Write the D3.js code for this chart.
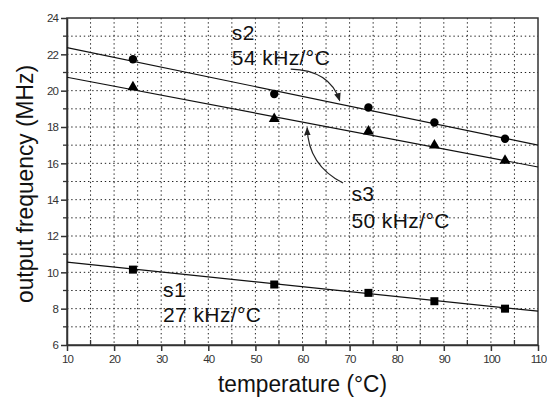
<!DOCTYPE html>
<html>
<head>
<meta charset="utf-8">
<script src="https://cdn.jsdelivr.net/npm/d3@7"></script>
<style>
  body { margin: 0; background: #fff; }
  text { font-family: "Liberation Sans", Arial, sans-serif; }
</style>
</head>
<body>
<div id="chart"></div>
<script>
// measured points
var temps = [24, 54, 74, 88, 103];
var s1 = [10.15, 9.33, 8.87, 8.41, 8.0];     // squares
var s2 = [21.73, 19.82, 19.07, 18.25, 17.35]; // circles
var s3 = [20.14, 18.4, 17.7, 16.93, 16.1];   // triangles

// fitted lines, read at both ends of the axis
var fitX = [10, 110];
var fit1 = [10.56, 7.86];
var fit2 = [22.37, 17.0];
var fit3 = [20.74, 15.8];

var xTicks = [10, 20, 30, 40, 50, 60, 70, 80, 90, 100, 110];
var yTicks = [6, 8, 10, 12, 14, 16, 18, 20, 22, 24];

var svgWidth = 547, svgHeight = 399;
var margin = {top: 18, right: 9, bottom: 54, left: 67};
var chartWidth = svgWidth - margin.left - margin.right;
var chartHeight = svgHeight - margin.top - margin.bottom;

var svg = d3.select("#chart").append("svg")
    .attr("width", svgWidth)
    .attr("height", svgHeight);

var g = svg.append("g")
    .attr("transform", `translate(${margin.left}, ${margin.top})`);

var x = d3.scaleLinear().domain([10, 110]).range([0, chartWidth]);
var y = d3.scaleLinear().domain([6, 24]).range([chartHeight, 0]);

// dotted grid
g.append("g").selectAll("line")
  .data(d3.range(15, 110, 5))
  .enter().append("line")
  .attr("x1", d => x(d)).attr("x2", d => x(d))
  .attr("y1", 0).attr("y2", chartHeight)
  .attr("stroke", "#222").attr("stroke-width", 1)
  .attr("stroke-dasharray", "1.4,2.8");

g.append("g").selectAll("line")
  .data(d3.range(7, 24, 1))
  .enter().append("line")
  .attr("y1", d => y(d)).attr("y2", d => y(d))
  .attr("x1", 0).attr("x2", chartWidth)
  .attr("stroke", "#222").attr("stroke-width", 1)
  .attr("stroke-dasharray", "1.4,2.8");

// axes
var xAxis = g.append("g")
  .attr("transform", `translate(0, ${chartHeight})`)
  .call(d3.axisBottom(x).tickValues(xTicks).tickSize(6).tickSizeOuter(0));
var yAxis = g.append("g")
  .call(d3.axisLeft(y).tickValues(yTicks).tickSize(6).tickSizeOuter(0));

// minor ticks
g.append("g").selectAll("line")
  .data(d3.range(15, 110, 10))
  .enter().append("line")
  .attr("x1", d => x(d)).attr("x2", d => x(d))
  .attr("y1", chartHeight).attr("y2", chartHeight - 5)
  .attr("stroke", "#333").attr("stroke-width", 1.3);
g.append("g").selectAll("line")
  .data(d3.range(7, 24, 2))
  .enter().append("line")
  .attr("y1", d => y(d)).attr("y2", d => y(d))
  .attr("x1", 0).attr("x2", -4)
  .attr("stroke", "#333").attr("stroke-width", 1.3);

[xAxis, yAxis].forEach(a => {
  a.selectAll("path, line").attr("stroke", "#333").attr("stroke-width", 1.5);
  a.selectAll("text")
    .attr("fill", "#333")
    .style("font-size", "11.5px")
    .style("letter-spacing", "-0.9px")
    .style("font-family", "'Liberation Sans', Arial, sans-serif");
});
yAxis.selectAll("text").attr("x", -9);
xAxis.selectAll("text").attr("y", 10);

// frame
g.append("rect")
  .attr("width", chartWidth).attr("height", chartHeight)
  .attr("fill", "none").attr("stroke", "#333").attr("stroke-width", 1.5);

// fit lines
var line = d3.line().x(d => x(d[0])).y(d => y(d[1]));
[fit1, fit2, fit3].forEach(f => {
  g.append("path")
    .datum(fitX.map((t, i) => [t, f[i]]))
    .attr("d", line)
    .attr("fill", "none")
    .attr("stroke", "#111")
    .attr("stroke-width", 1.2);
});

// markers
g.selectAll(".sq").data(temps).enter().append("rect")
  .attr("x", (d, i) => x(d) - 4).attr("y", (d, i) => y(s1[i]) - 4)
  .attr("width", 8).attr("height", 8).attr("fill", "#000");

g.selectAll(".ci").data(temps).enter().append("circle")
  .attr("cx", d => x(d)).attr("cy", (d, i) => y(s2[i]))
  .attr("r", 4.2).attr("fill", "#000");

g.selectAll(".tri").data(temps).enter().append("path")
  .attr("d", d3.symbol().type(d3.symbolTriangle).size(52))
  .attr("transform", (d, i) => `translate(${x(d)}, ${y(s3[i]) - 1})`)
  .attr("fill", "#000");

// arrowheads
svg.append("defs").append("marker")
  .attr("id", "head")
  .attr("viewBox", "0 0 10 10")
  .attr("refX", 9).attr("refY", 5)
  .attr("markerWidth", 7).attr("markerHeight", 7)
  .attr("orient", "auto")
  .append("path").attr("d", "M0,1 L10,5 L0,9 Z").attr("fill", "#222");

var arrows = [
  [[57.5, 21.19], [65.8, 21.14], [67.9, 19.45]],
  [[68.6, 14.92], [61.2, 15.9], [61.0, 17.95]]
];
arrows.forEach(a => {
  g.append("path")
    .attr("d", `M${x(a[0][0])},${y(a[0][1])} Q${x(a[1][0])},${y(a[1][1])} ${x(a[2][0])},${y(a[2][1])}`)
    .attr("fill", "none").attr("stroke", "#222").attr("stroke-width", 1.2)
    .attr("marker-end", "url(#head)");
});

// slope labels
var labels = [
  ["s2", 45.0, 22.79], ["54 kHz/°C", 45.0, 21.41],
  ["s3", 70.4, 13.9], ["50 kHz/°C", 70.4, 12.44],
  ["s1", 30.4, 8.66], ["27 kHz/°C", 30.4, 7.29]
];
g.selectAll(".lbl").data(labels).enter().append("text")
  .attr("x", d => x(d[1])).attr("y", d => y(d[2]))
  .attr("fill", "#111")
  .style("font-size", "21px")
  .style("letter-spacing", "0.4px")
  .text(d => d[0]);

// axis titles (condensed, as in the scan)
svg.append("text")
  .attr("x", 218).attr("y", 392)
  .attr("textLength", 169).attr("lengthAdjust", "spacingAndGlyphs")
  .attr("fill", "#111")
  .style("font-size", "23px")
  .text("temperature (°C)");

svg.append("text")
  .attr("transform", "translate(33, 303) rotate(-90)")
  .attr("textLength", 238).attr("lengthAdjust", "spacingAndGlyphs")
  .attr("fill", "#111")
  .style("font-size", "24px")
  .text("output frequency (MHz)");
</script>
</body>
</html>
